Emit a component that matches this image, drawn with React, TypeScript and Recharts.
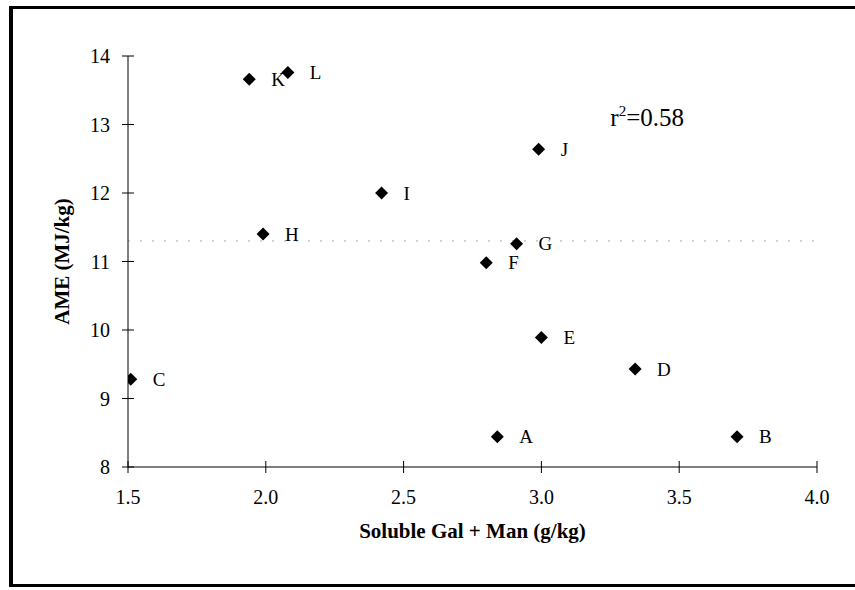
import React from "react";
import {
  ScatterChart,
  Scatter,
  XAxis,
  YAxis,
  ReferenceDot,
  ReferenceLine,
} from "recharts";

const labels = ["A", "B", "C", "D", "E", "F", "G", "H", "I", "J", "K", "L"];
const galMan = [2.84, 3.71, 1.51, 3.34, 3.0, 2.8, 2.91, 1.99, 2.42, 2.99, 1.94, 2.08];
const ame = [8.44, 8.44, 9.28, 9.43, 9.89, 10.98, 11.26, 11.4, 12.0, 12.64, 13.66, 13.76];
const xTicks = [1.5, 2.0, 2.5, 3.0, 3.5, 4.0];
const yTicks = [8, 9, 10, 11, 12, 13, 14];
const rSquared = "0.58";

const data = labels.map((l, i) => ({ label: l, x: galMan[i], y: ame[i] }));

const FONT = "'Liberation Serif', 'Times New Roman', serif";

const Diamond = (props: any) => {
  const { cx, cy, payload } = props;
  const s = 6.5;
  return (
    <g>
      <polygon
        points={`${cx},${cy - s} ${cx + s},${cy} ${cx},${cy + s} ${cx - s},${cy}`}
        fill="#000"
      />
      <text
        x={cx + 22}
        y={cy + 6.5}
        fontFamily={FONT}
        fontSize={19}
        fill="#000"
      >
        {payload.label}
      </text>
    </g>
  );
};

const XTick = (props: any) => {
  const { x, y, payload } = props;
  return (
    <g>
      <line x1={x} x2={x} y1={y - 12} y2={y} stroke="#000" strokeWidth={1} />
      <text
        x={x}
        y={y + 31}
        textAnchor="middle"
        fontFamily={FONT}
        fontSize={20}
        fill="#000"
      >
        {Number(payload.value).toFixed(1)}
      </text>
    </g>
  );
};

const YTick = (props: any) => {
  const { x, y, payload } = props;
  return (
    <g>
      <line x1={x} x2={x + 12} y1={y} y2={y} stroke="#000" strokeWidth={1} />
      <text
        x={x - 12}
        y={y + 7}
        textAnchor="end"
        fontFamily={FONT}
        fontSize={20}
        fill="#000"
      >
        {payload.value}
      </text>
    </g>
  );
};

const RText = (props: any) => {
  const { cx, cy } = props;
  return (
    <text x={cx} y={cy + 8} fontFamily={FONT} fontSize={25} fill="#000">
      <tspan>r</tspan>
      <tspan dy={-10} fontSize={15}>2</tspan>
      <tspan dy={10} fontSize={25}>={rSquared}</tspan>
    </text>
  );
};

export default function App() {
  return (
    <div style={{ position: "absolute", left: 0, top: 0, width: 855, height: 590, background: "#fff" }}>
      <div
        style={{
          position: "absolute",
          left: 9,
          top: 6,
          width: 846,
          height: 581,
          borderLeft: "4px solid #000",
          borderTop: "3px solid #000",
          borderBottom: "3px solid #000",
          boxSizing: "border-box",
        }}
      />
      <div style={{ position: "absolute", left: 0, top: 0 }}>
        <ScatterChart
          width={855}
          height={590}
          margin={{ top: 56, right: 38, left: 0, bottom: 0 }}
        >
          <XAxis
            type="number"
            dataKey="x"
            domain={[1.5, 4]}
            ticks={xTicks}
            allowDataOverflow
            height={123}
            tickSize={6}
            tickMargin={0}
            tickLine={false}
            axisLine={{ stroke: "#000", strokeWidth: 1 }}
            tick={<XTick />}
            interval={0}
            label={{
              value: "Soluble Gal + Man (g/kg)",
              position: "insideTop",
              offset: 56,
              style: { fontFamily: FONT, fontSize: 21, fontWeight: "bold", fill: "#000" },
            }}
          />
          <YAxis
            type="number"
            dataKey="y"
            domain={[8, 14]}
            ticks={yTicks}
            allowDataOverflow
            width={128}
            tickSize={6}
            tickMargin={0}
            tickLine={false}
            axisLine={{ stroke: "#000", strokeWidth: 1 }}
            tick={<YTick />}
            interval={0}
            label={(p: any) => {
              const vb = p.viewBox || {};
              const x = (vb.x ?? 0) + 62;
              const y = (vb.y ?? 56) + (vb.height ?? 411) / 2;
              return (
                <text
                  x={x}
                  y={y}
                  transform={`rotate(-90, ${x}, ${y})`}
                  textAnchor="middle"
                  dominantBaseline="central"
                  fontFamily={FONT}
                  fontSize={21}
                  fontWeight="bold"
                  fill="#000"
                >
                  AME (MJ/kg)
                </text>
              );
            }}
          />
          <ReferenceLine
            y={11.3}
            stroke="#aaa"
            strokeWidth={1}
            strokeDasharray="2 10"
          />
          <Scatter data={data} shape={<Diamond />} isAnimationActive={false} />
          <ReferenceDot x={3.25} y={13.09} r={0} shape={<RText />} />
        </ScatterChart>
      </div>
    </div>
  );
}
